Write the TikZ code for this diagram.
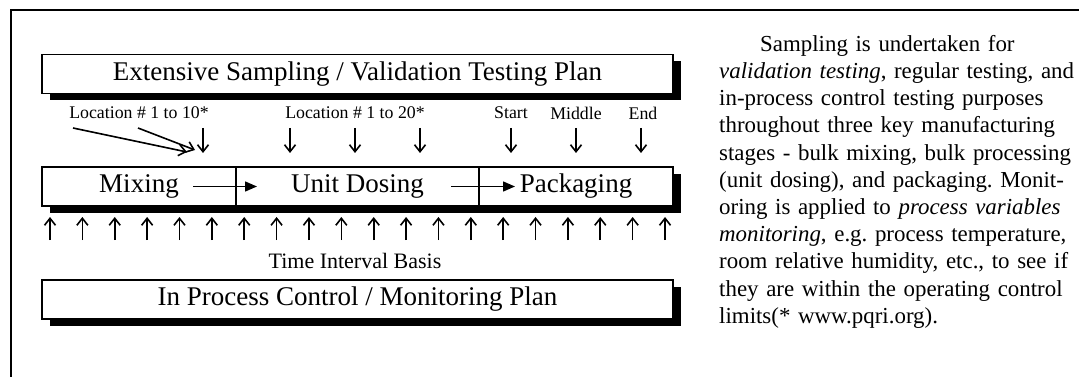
\documentclass[tikz,border=0pt]{standalone}
\usepackage{fontspec}
\setmainfont{Liberation Serif}
\frenchspacing
\usetikzlibrary{arrows.meta, calc, positioning, shadows}
\tikzset{ plan/.style = { rectangle
                        , draw
                        , line width   = 1.6pt
                        , fill         = white
                        , inner sep    = 0pt
                        , outer sep    = 0pt
                        , minimum width  = 631pt
                        , minimum height = 39pt
                        , font = \fontsize{27}{30}\selectfont
                        , drop shadow = {shadow xshift=8pt, shadow yshift=-7pt, fill=black, opacity=1}
                        },
           cell/.style = { rectangle
                        , draw
                        , line width   = 1.6pt
                        , inner sep    = 0pt
                        , outer sep    = 0pt
                        , minimum height = 39pt
                        , font = \fontsize{27}{30}\selectfont
                        },
           lbl/.style = { inner sep = 0pt
                        , font = \fontsize{17.8}{20}\selectfont
                        },
           sample/.style = { line width = 1.6pt
                           , -{Straight Barb[length=7pt,width=11pt]}
                           },
           flow/.style = { line width = 1.5pt
                         , -{Triangle[length=12pt,width=10pt]}
                         }
          }

\begin{document}
\begin{tikzpicture}[x=1pt, y=-1pt]
    \useasboundingbox (0,0) rectangle (1079,377);
    % frame
    \draw[line width=1.4pt] (11,377) -- (11,10) -- (1079,10);

    % the two plans
    \node[plan] (esvt) at (357.5,74) {Extensive Sampling / Validation Testing Plan};
    \node[plan] (ipc)  at (357.5,299.5) {In Process Control / Monitoring Plan};

    % stages
    \node[plan] (stages) at (357.5,186.5) {};
    \node[cell, minimum width=194pt] (mix) at (139,186.5) {Mixing};
    \node[cell, minimum width=243pt, right=0pt of mix] (dose) {Unit Dosing};
    \node[cell, minimum width=194pt, right=0pt of dose] (pack) {Packaging};
    \draw[flow] ([xshift=-43pt]mix.east) -- ([xshift=21pt]dose.west);
    \draw[flow] ([xshift=-28pt]dose.east) -- ([xshift=36pt]pack.west);

    % sampling points
    \node[lbl] (loc1)   at (139,113) {Location \# 1 to 10*};
    \node[lbl] (loc2)   at (355,113) {Location \# 1 to 20*};
    \node[lbl] (lstart) at (511,113) {Start};
    \node[lbl] (lmid)   at (576,113) {Middle};
    \node[lbl] (lend)   at (643,113) {End};
    \draw[sample] ($(loc1)+(-66,15)$) -- ($(loc1)+(48,39)$);
    \draw[sample] ($(loc1)+(-1,15)$)  -- ($(loc1)+(56,37)$);
    \draw[sample] ($(loc1)+(64,15)$)  -- ++(0,25);
    \foreach \dx in {-65,0,65}
        \draw[sample] ($(loc2)+(\dx,15)$) -- ++(0,25);
    \draw[sample] ($(lstart)+(0,15)$) -- ++(0,25);
    \draw[sample] ($(lmid)+(0,15)$)   -- ++(0,25);
    \draw[sample] ($(lend)+(-2,15)$)  -- ++(0,25);

    % monitoring points
    \foreach \i in {0,...,19}
        \draw[sample] ($(mix.south west)+(8+32.37*\i,34)$) -- ++(0,-23);
    \node[lbl, font=\fontsize{22}{24}\selectfont] (tib) at (355,260.5) {Time Interval Basis};

    % text
    \node[anchor=north west, inner sep=0pt, text width=356pt, align=left,
          font=\fontsize{22.9}{27.2}\selectfont] (txt) at (719,35)
        {\hspace*{41pt}Sampling is undertaken for\\
         \emph{validation testing}, regular testing, and\\
         in-process control testing purposes\\
         throughout three key manufacturing\\
         stages - bulk mixing, bulk processing\\
         (unit dosing), and packaging. Monit-\\
         oring is applied to \emph{process variables}\\
         \emph{monitoring}, e.g. process temperature,\\
         room relative humidity, etc., to see if\\
         they are within the operating control\\
         limits(* www.pqri.org).};
\end{tikzpicture}
\end{document}
